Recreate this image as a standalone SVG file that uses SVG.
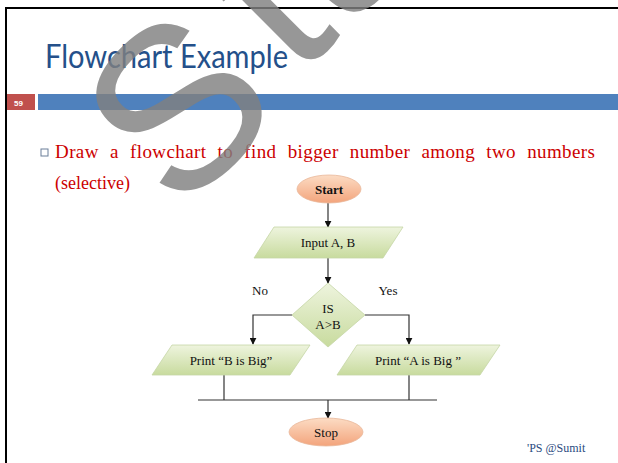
<svg xmlns="http://www.w3.org/2000/svg" width="618" height="463" viewBox="0 0 618 463">
  <defs>
    <linearGradient id="peach" x1="0" y1="0" x2="0" y2="1">
      <stop offset="0" stop-color="#FCDCC4"/>
      <stop offset="1" stop-color="#F3A47C"/>
    </linearGradient>
    <linearGradient id="green" x1="0" y1="0" x2="0" y2="1">
      <stop offset="0" stop-color="#EEF4DE"/>
      <stop offset="1" stop-color="#C8DB9E"/>
    </linearGradient>
    <marker id="arrow" viewBox="0 0 10 10" refX="9" refY="5" markerWidth="7" markerHeight="7" orient="auto" markerUnits="userSpaceOnUse">
      <path d="M0,0 L10,5 L0,10 z" fill="#111"/>
    </marker>
    <style>
      .line { fill: none; stroke: #333; stroke-width: 1.2; }
      .ell { fill: url(#peach); stroke: #E8B89A; stroke-width: 0.8; }
      .io { fill: url(#green); stroke: #C5D6A6; stroke-width: 0.8; }
      .lbl { font-family: "Liberation Serif", serif; font-size: 13px; fill: #111; text-anchor: middle; }
    </style>
  </defs>

  <rect width="618" height="463" fill="#fff"/>
  <!-- slide frame -->
  <path d="M6,463 V8 H618" fill="none" stroke="#000" stroke-width="2"/>

  <!-- title -->
  <text x="45" y="68" font-family="Lato, sans-serif" font-size="32" fill="#24508A" textLength="243" lengthAdjust="spacingAndGlyphs">Flowchart Example</text>

  <!-- page number and bar -->
  <rect x="7" y="94" width="28" height="16" fill="#C0504D"/>
  <text x="14" y="106" font-family="Liberation Sans, sans-serif" font-size="8" font-weight="bold" fill="#fff">59</text>
  <rect x="38" y="94" width="580" height="16" fill="#4F81BD"/>

  <!-- bullet -->
  <rect x="41" y="149" width="7" height="7" fill="#fff" stroke="#6B7F99" stroke-width="1"/>
  <text x="55" y="158" font-family="Liberation Serif, serif" font-size="19" fill="#CC0000" word-spacing="6" textLength="540" lengthAdjust="spacing">Draw a flowchart to find bigger number among two numbers</text>
  <text x="55" y="189" font-family="Liberation Serif, serif" font-size="18" fill="#CC0000">(selective)</text>

  <!-- connectors -->
  <g id="connectors">
    <line class="line" x1="328" y1="203" x2="328" y2="227" marker-end="url(#arrow)"/>
    <line class="line" x1="328" y1="258" x2="328" y2="283" marker-end="url(#arrow)"/>
    <polyline class="line" points="292,315 253,315 253,344" marker-end="url(#arrow)"/>
    <polyline class="line" points="365,315 409,315 409,344" marker-end="url(#arrow)"/>
    <line class="line" x1="224" y1="375" x2="224" y2="400"/>
    <line class="line" x1="409" y1="375" x2="409" y2="400"/>
    <line class="line" x1="198" y1="400" x2="437" y2="400"/>
    <line class="line" x1="328" y1="400" x2="328" y2="418" marker-end="url(#arrow)"/>
  </g>

  <g id="start">
    <ellipse class="ell" cx="329" cy="189" rx="32" ry="14"/>
    <text class="lbl" x="329" y="194" font-weight="bold">Start</text>
  </g>

  <g id="input">
    <polygon class="io" points="274,227 403,227 383,258 254,258"/>
    <text class="lbl" x="328" y="247">Input  A, B</text>
  </g>

  <g id="decision">
    <polygon class="io" points="328,283 365,315 328,347 292,315"/>
    <text class="lbl" x="328" y="313">IS</text>
    <text class="lbl" x="328" y="329">A&gt;B</text>
  </g>

  <text class="lbl" x="260" y="295">No</text>
  <text class="lbl" x="388" y="295">Yes</text>

  <g id="printB">
    <polygon class="io" points="172,345 310,345 290,375 152,375"/>
    <text class="lbl" x="231" y="365">Print “B is Big”</text>
  </g>

  <g id="printA">
    <polygon class="io" points="357,345 500,345 480,375 337,375"/>
    <text class="lbl" x="418" y="365">Print “A is Big ”</text>
  </g>

  <g id="stop">
    <ellipse class="ell" cx="326" cy="432" rx="37" ry="14"/>
    <text class="lbl" x="326" y="437">Stop</text>
  </g>

  <text x="527" y="452" font-family="Liberation Serif, serif" font-size="12" fill="#2A4A80">'PS @Sumit</text>

  <!-- watermark -->
  <text transform="translate(179,217) rotate(-45)" font-family="Liberation Sans, sans-serif" font-size="230" fill="#808080" fill-opacity="0.82">S<tspan dx="27" dy="-14">tu</tspan></text>
</svg>
